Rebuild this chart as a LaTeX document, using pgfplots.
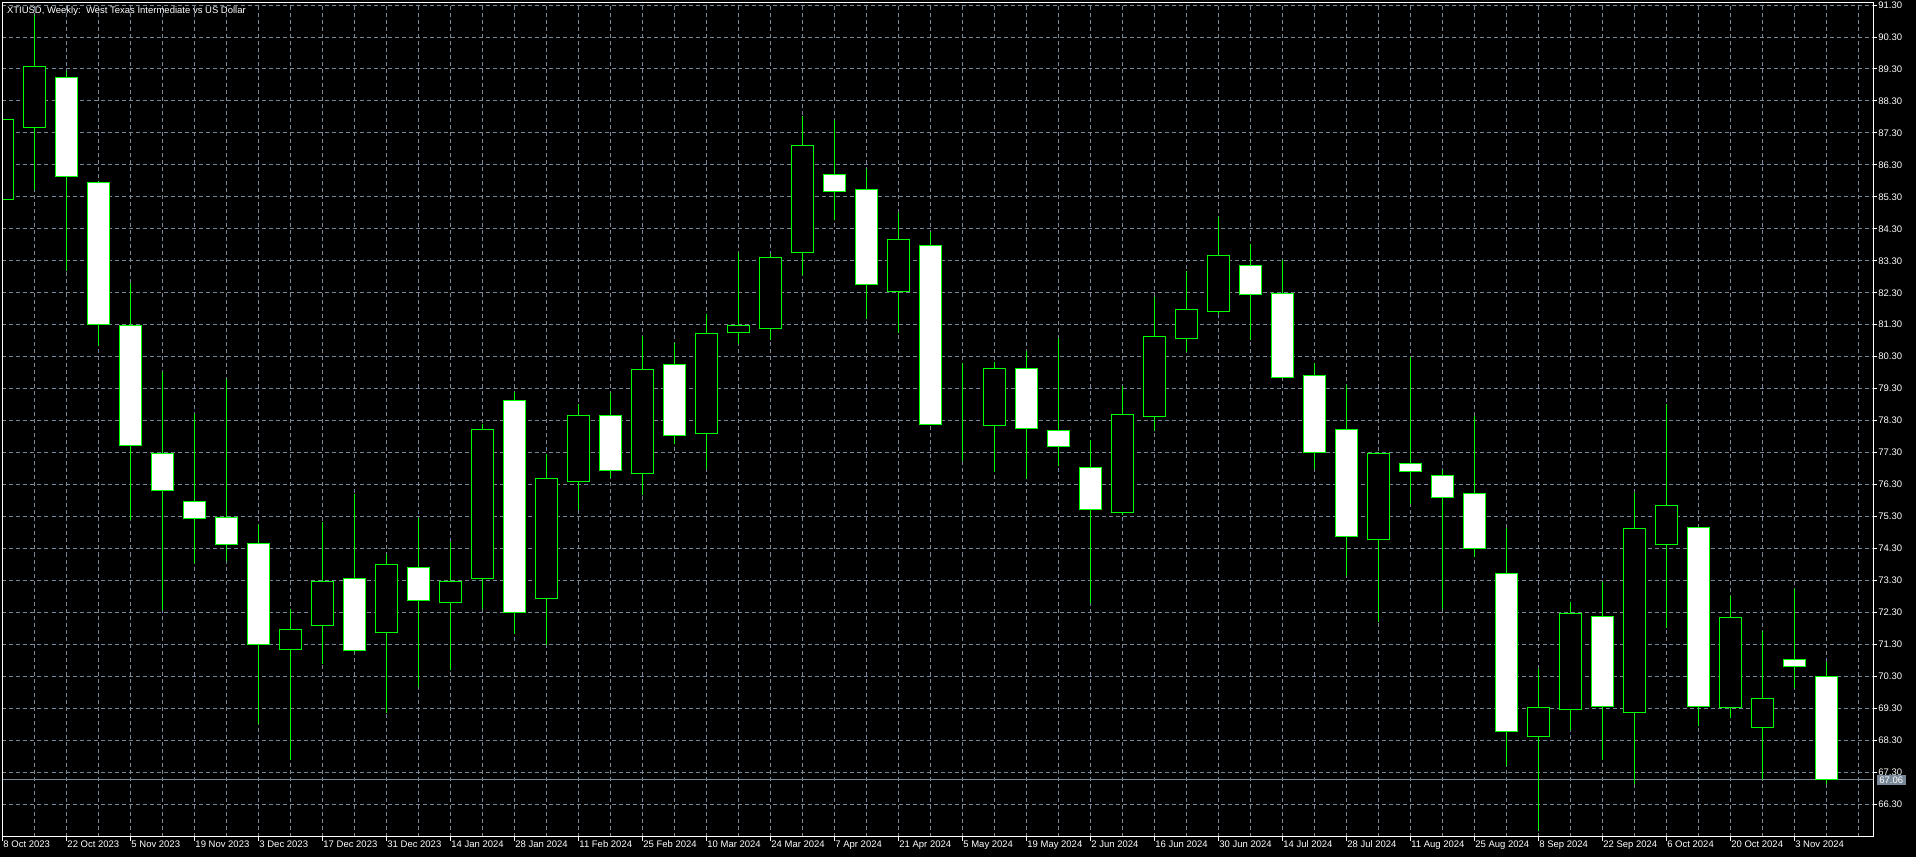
\documentclass[border=0pt]{standalone}
\usepackage{fontspec}
\setmainfont{Liberation Sans}
\usepackage{pgfplots}
\usepackage{pgfplotstable}
\pgfplotsset{compat=1.18}
\definecolor{cgreen}{RGB}{0,255,0}
\definecolor{gridc}{RGB}{119,136,153}
\pgfplotstableread{
i o h l c
0 85.23 87.72 85.23 87.72
1 87.47 90.99 85.51 89.38
2 89.03 89.23 82.98 85.93
3 85.75 85.80 80.62 81.31
4 81.27 82.62 75.19 77.51
5 77.26 79.82 72.38 76.10
6 75.78 78.51 73.84 75.23
7 75.28 79.60 73.90 74.44
8 74.46 75.04 68.81 71.29
9 71.14 72.41 67.67 71.78
10 71.89 75.13 70.69 73.28
11 73.37 76.00 71.06 71.12
12 71.68 74.14 69.15 73.80
13 73.69 75.24 69.97 72.68
14 72.60 74.49 70.49 73.28
15 73.37 78.18 72.40 78.03
16 78.93 79.18 71.63 72.30
17 72.75 77.26 71.28 76.50
18 76.40 78.81 75.51 78.46
19 78.46 79.15 76.50 76.75
20 76.65 80.96 75.97 79.90
21 80.04 80.74 77.57 77.84
22 77.91 81.64 76.80 81.04
23 81.06 83.55 80.69 81.26
24 81.19 83.52 80.82 83.40
25 83.57 87.82 82.85 86.90
26 86.00 87.71 84.57 85.48
27 85.53 86.17 81.48 82.56
28 82.35 84.79 81.04 83.97
29 83.79 84.20 78.15 78.19
30 78.26 80.10 77.04 78.26
31 78.16 80.12 76.69 79.94
32 79.94 80.49 76.47 78.06
33 77.99 80.89 76.87 77.49
34 76.84 77.69 72.60 75.51
35 75.41 79.38 75.35 78.49
36 78.43 82.18 77.98 80.94
37 80.86 82.98 80.44 81.78
38 81.71 84.68 81.64 83.47
39 83.15 83.84 80.82 82.26
40 82.28 83.32 79.62 79.65
41 79.72 80.10 76.80 77.29
42 78.03 79.42 73.44 74.68
43 74.59 77.31 72.00 77.26
44 76.97 80.30 75.70 76.72
45 76.58 76.77 72.40 75.88
46 76.03 78.44 74.04 74.29
47 73.52 74.93 67.51 68.58
48 68.43 70.52 65.46 69.33
49 69.25 72.62 68.63 72.28
50 72.18 73.25 67.67 69.37
51 69.18 76.05 66.94 74.93
52 74.41 78.81 71.81 75.65
53 74.96 74.96 68.75 69.37
54 69.32 72.82 69.00 72.13
55 68.71 71.73 67.09 69.62
56 70.84 73.03 69.93 70.62
57 70.30 70.74 66.92 67.06
}\ohlc
\begin{document}
\begin{tikzpicture}
\fill[black] (0,0) rectangle (958pt,428.5pt);
\useasboundingbox (0,0) rectangle (958pt,428.5pt);
\begin{axis}[
  at={(1.25pt,10.25pt)}, anchor=south west, scale only axis,
  width=935.25pt, height=417pt,
  xmin=0, xmax=58.46, ymin=65.29, ymax=91.38,
  axis line style={white, line width=0.5pt},
  xtick={0,2,...,56}, minor xtick={1,3,...,57,58},
  xticklabels={8 Oct 2023,22 Oct 2023,5 Nov 2023,19 Nov 2023,3 Dec 2023,17 Dec 2023,31 Dec 2023,14 Jan 2024,28 Jan 2024,11 Feb 2024,25 Feb 2024,10 Mar 2024,24 Mar 2024,7 Apr 2024,21 Apr 2024,5 May 2024,19 May 2024,2 Jun 2024,16 Jun 2024,30 Jun 2024,14 Jul 2024,28 Jul 2024,11 Aug 2024,25 Aug 2024,8 Sep 2024,22 Sep 2024,6 Oct 2024,20 Oct 2024,3 Nov 2024},
  ytick={66.3,67.3,68.3,69.3,70.3,71.3,72.3,73.3,74.3,75.3,76.3,77.3,78.3,79.3,80.3,81.3,82.3,83.3,84.3,85.3,86.3,87.3,88.3,89.3,90.3,91.3},
  grid=both,
  major grid style={gridc, dash pattern=on 2pt off 1.5pt, line width=0.5pt},
  minor grid style={gridc, dash pattern=on 2pt off 1.5pt, line width=0.5pt},
  tick align=outside, major tick length=2pt, minor tick length=0pt,
  xtick pos=left, ytick pos=right, yticklabel pos=right,
  tick style={white, line width=0.5pt},
  ticklabel style={white, font=\fontsize{4.75pt}{5.5pt}\selectfont},
  xticklabel style={anchor=north west, inner sep=0pt, xshift=0.3pt},
  yticklabel style={anchor=west, inner sep=0pt, xshift=0.5pt,
    /pgf/number format/.cd, fixed, fixed zerofill, precision=2, assume math mode=true},
]
\addplot[gridc, line width=0.5pt, forget plot] coordinates {(0,67.06) (58.46,67.06)};
\addplot[draw=none, mark=none, error bars/.cd, y dir=both, y explicit, error mark=none,
  error bar style={color=cgreen, line width=0.5pt}]
  table[x=i, y=o, y error plus expr=\thisrow{h}-\thisrow{o}, y error minus expr=\thisrow{o}-\thisrow{l}] {\ohlc};
\coordinate (pt) at (axis cs:58.46,67.06);
\end{axis}
\begin{axis}[
  at={(1.25pt,10.25pt)}, anchor=south west, scale only axis,
  width=935.25pt, height=417pt,
  xmin=0, xmax=58.46, ymin=65.29, ymax=91.38,
  axis on top, axis line style={white, line width=0.5pt}, ticks=none,
  ybar stacked, bar width=0.6875,
]
\addplot[draw=none, fill=none] table[x=i, y expr={min(\thisrow{o},\thisrow{c})}] {\ohlc};
\addplot[draw=cgreen, fill=black, line width=0.5pt] table[x=i, y expr={max(\thisrow{c}-\thisrow{o},0)}] {\ohlc};
\addplot[draw=cgreen, fill=white, line width=0.5pt] table[x=i, y expr={max(\thisrow{o}-\thisrow{c},0)}] {\ohlc};
\end{axis}
\node[anchor=west, fill=gridc, inner sep=0pt, minimum height=5.3pt, minimum width=14.2pt, text=white, font=\fontsize{4.75pt}{5.5pt}\selectfont, xshift=1.85pt] at (pt) {67.06};
\node[anchor=north west, inner sep=0pt, text=white, font=\fontsize{4.75pt}{5.5pt}\selectfont] at (3.3pt,425.3pt) {XTIUSD, Weekly:\ \ West Texas Intermediate vs US Dollar};
\end{tikzpicture}
\end{document}
